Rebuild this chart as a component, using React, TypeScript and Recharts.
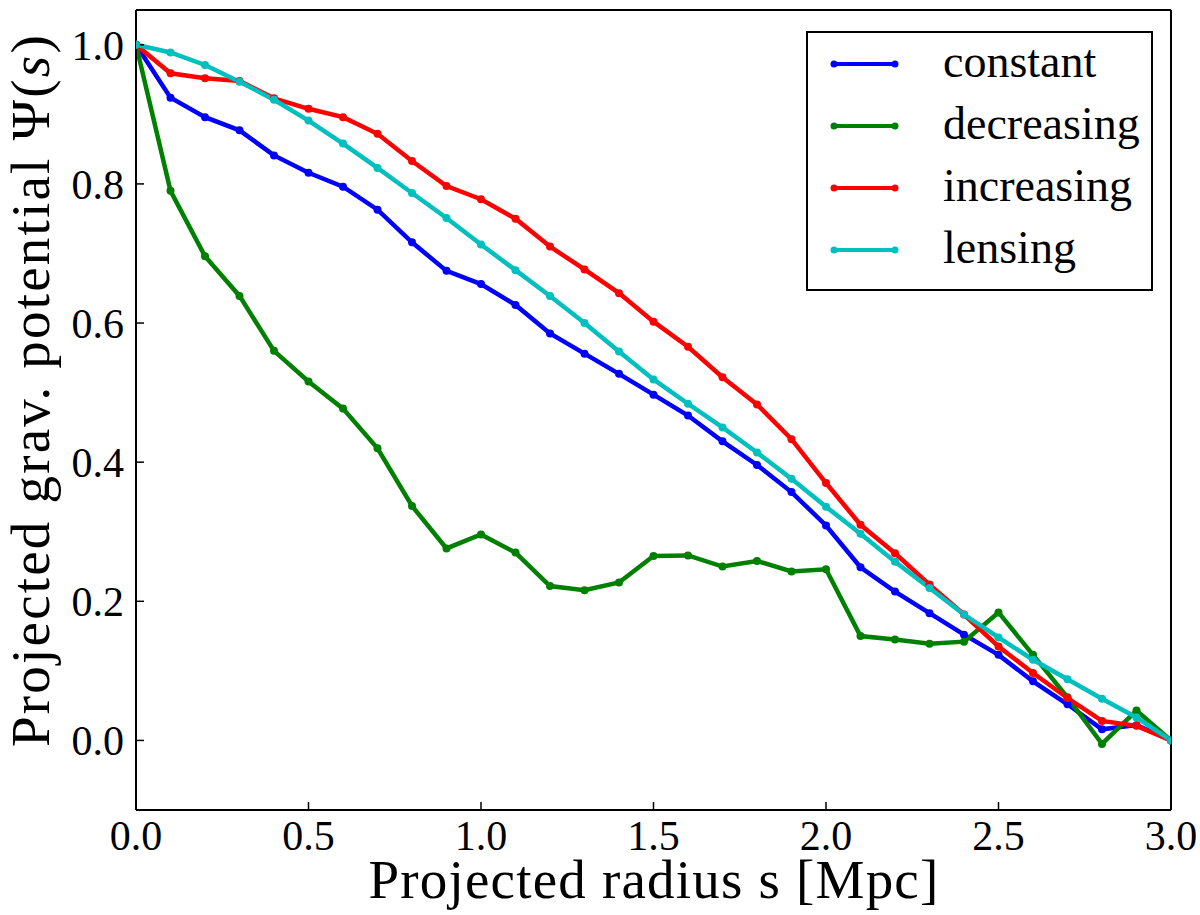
import { Label, Legend, Line, LineChart, XAxis, YAxis } from 'recharts'

// Projected radius s [Mpc], one sample every 0.1
const RADIUS = [
  0.0, 0.1, 0.2, 0.3, 0.4, 0.5, 0.6, 0.7, 0.8, 0.9, 1.0, 1.1, 1.2, 1.3, 1.4, 1.5,
  1.6, 1.7, 1.8, 1.9, 2.0, 2.1, 2.2, 2.3, 2.4, 2.5, 2.6, 2.7, 2.8, 2.9, 3.0,
]

// Psi(s) for each profile
const CONSTANT = [
  1.0, 0.924, 0.896, 0.877, 0.841, 0.816, 0.796, 0.763, 0.716, 0.675, 0.656, 0.626,
  0.585, 0.556, 0.527, 0.497, 0.467, 0.43, 0.396, 0.357, 0.309, 0.249, 0.214, 0.183,
  0.152, 0.123, 0.085, 0.052, 0.016, 0.022, 0.0,
]
const DECREASING = [
  1.0, 0.79, 0.696, 0.639, 0.56, 0.516, 0.477, 0.42, 0.337, 0.276, 0.296, 0.27,
  0.222, 0.216, 0.227, 0.265, 0.266, 0.25, 0.258, 0.243, 0.246, 0.15, 0.145, 0.139,
  0.142, 0.184, 0.123, 0.062, -0.005, 0.043, 0.0,
]
const INCREASING = [
  1.0, 0.959, 0.952, 0.948, 0.923, 0.908, 0.896, 0.872, 0.833, 0.797, 0.778, 0.75,
  0.71, 0.677, 0.643, 0.602, 0.566, 0.522, 0.483, 0.433, 0.37, 0.31, 0.269, 0.224,
  0.181, 0.135, 0.097, 0.061, 0.028, 0.021, 0.0,
]
const LENSING = [
  1.0, 0.989, 0.971, 0.947, 0.921, 0.891, 0.858, 0.823, 0.787, 0.751, 0.713, 0.676,
  0.639, 0.6, 0.559, 0.519, 0.484, 0.45, 0.414, 0.376, 0.336, 0.297, 0.257, 0.219,
  0.181, 0.148, 0.116, 0.088, 0.06, 0.033, 0.0,
]

const X_TICKS = [0, 0.5, 1.0, 1.5, 2.0, 2.5, 3.0]
const Y_TICKS = [0, 0.2, 0.4, 0.6, 0.8, 1.0]
const X_DOMAIN = [0, 3]
const Y_DOMAIN = [-0.1, 1.05]

const SERIES = [
  { key: 'constant', color: '#0000ff' },
  { key: 'decreasing', color: '#008000' },
  { key: 'increasing', color: '#ff0000' },
  { key: 'lensing', color: '#00bfbf' },
]

const data = RADIUS.map((s, i) => ({
  s,
  constant: CONSTANT[i],
  decreasing: DECREASING[i],
  increasing: INCREASING[i],
  lensing: LENSING[i],
}))

const FONT = '"Liberation Serif", "DejaVu Serif", serif'
const tickStyle = { fontSize: 42, fill: '#000', fontFamily: FONT }
const frame = { stroke: '#000', strokeWidth: 2 }
const tickMark = { stroke: '#000', strokeWidth: 1.5 }
const fmt = (v: number) => v.toFixed(1)

function XTitle() {
  return (
    <text
      x={654}
      y={898}
      textAnchor="middle"
      fontSize={55}
      letterSpacing={1.2}
      fontFamily={FONT}
      fill="#000"
    >
      Projected radius s [Mpc]
    </text>
  )
}

function YTitle() {
  return (
    <text
      x={49}
      y={390}
      textAnchor="middle"
      fontSize={55}
      letterSpacing={2.2}
      fontFamily={FONT}
      fill="#000"
      transform="rotate(-90, 49, 390)"
    >
      Projected grav. potential Ψ(<tspan fontStyle="italic">s</tspan>)
    </text>
  )
}

function LegendBox() {
  return (
    <div
      style={{
        width: 347,
        height: 260,
        boxSizing: 'border-box',
        border: '2px solid #000',
        background: '#fff',
        fontFamily: FONT,
      }}
    >
      {SERIES.map((s) => (
        <div key={s.key} style={{ position: 'relative', height: 62 }}>
          <svg width={72} height={20} style={{ position: 'absolute', left: 22, top: 21 }}>
            <line x1={4} y1={10} x2={65} y2={10} stroke={s.color} strokeWidth={4} />
            <circle cx={4} cy={10} r={3.5} fill={s.color} />
            <circle cx={65} cy={10} r={3.5} fill={s.color} />
          </svg>
          <span
            style={{
              position: 'absolute',
              left: 135,
              top: 0,
              lineHeight: '58px',
              fontSize: 46,
              color: '#000',
            }}
          >
            {s.key}
          </span>
        </div>
      ))}
    </div>
  )
}

export default function App() {
  return (
    <div style={{ position: 'absolute', left: 0, top: 0, background: '#fff' }}>
      <LineChart
        width={1200}
        height={915}
        data={data}
        margin={{ top: 10, right: 29, left: 0, bottom: 0 }}
      >
        <XAxis
          dataKey="s"
          type="number"
          domain={X_DOMAIN}
          ticks={X_TICKS}
          tickFormatter={fmt}
          height={105}
          tick={tickStyle}
          tickSize={-8}
          tickMargin={18}
          axisLine={frame}
          tickLine={tickMark}
          allowDataOverflow
        >
          <Label content={XTitle} />
        </XAxis>
        <XAxis
          xAxisId="top"
          dataKey="s"
          type="number"
          orientation="top"
          domain={X_DOMAIN}
          ticks={X_TICKS}
          height={1}
          mirror
          tick={false}
          tickSize={8}
          axisLine={frame}
          tickLine={tickMark}
        />
        <YAxis
          type="number"
          domain={Y_DOMAIN}
          ticks={Y_TICKS}
          tickFormatter={fmt}
          width={136}
          tick={tickStyle}
          tickSize={-8}
          tickMargin={20}
          axisLine={frame}
          tickLine={tickMark}
          allowDataOverflow
        >
          <Label content={YTitle} />
        </YAxis>
        <YAxis
          yAxisId="right"
          type="number"
          orientation="right"
          domain={Y_DOMAIN}
          ticks={Y_TICKS}
          width={1}
          mirror
          tick={false}
          tickSize={8}
          axisLine={frame}
          tickLine={tickMark}
        />
        {SERIES.map((s) => (
          <Line
            key={s.key}
            type="linear"
            dataKey={s.key}
            stroke={s.color}
            strokeWidth={4.5}
            dot={{ r: 4, fill: s.color, stroke: s.color, strokeWidth: 0 }}
            activeDot={false}
            isAnimationActive={false}
          />
        ))}
        <Legend
          layout="vertical"
          align="center"
          verticalAlign="middle"
          wrapperStyle={{ left: 806, top: 31, width: 347, height: 260 }}
          content={() => <LegendBox />}
        />
      </LineChart>
    </div>
  )
}
